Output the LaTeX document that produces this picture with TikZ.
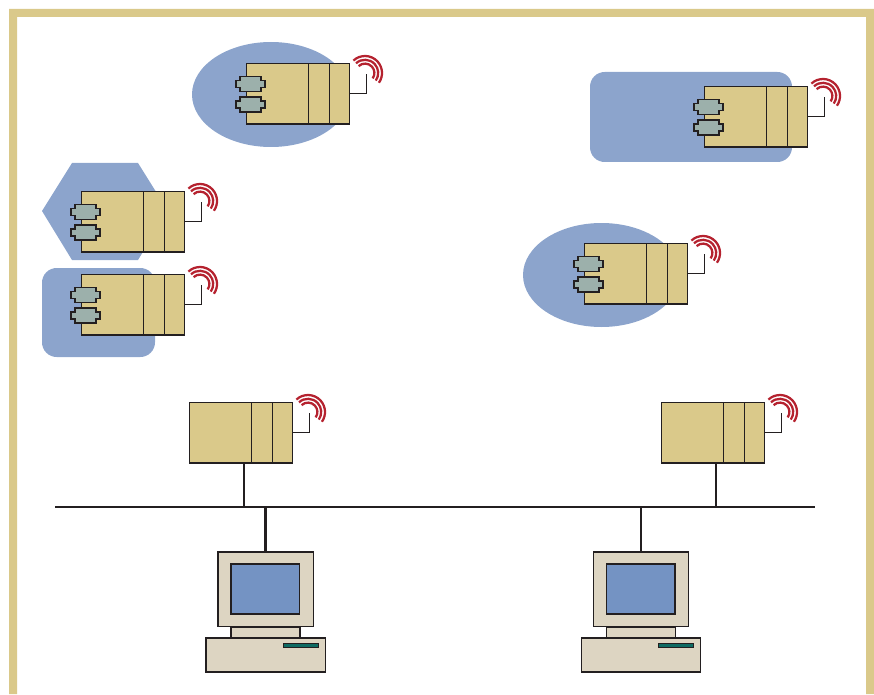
\documentclass[tikz,border=0pt]{standalone}
\usepackage[rgb]{xcolor}
\usepackage{tikz}

\definecolor{cellblue}{HTML}{8CA4CC}
\definecolor{devicetan}{HTML}{DAC98A}
\definecolor{plugGrey}{HTML}{9CB0AB}
\definecolor{waveRed}{HTML}{B5222F}
\definecolor{lineDark}{HTML}{231F20}
\definecolor{pcBeige}{HTML}{DDD5C2}
\definecolor{screenBlue}{HTML}{7493C3}
\definecolor{slotTeal}{HTML}{0E6B63}

\tikzset{
  box/.style={draw=lineDark, line width=0.95pt, outer sep=0pt, inner sep=0pt, anchor=north west},
  wave/.style={draw=waveRed, line width=1.7pt},
  busline/.style={draw=lineDark, line width=2.2pt},
  stemline/.style={draw=lineDark, line width=1.9pt},
  plug/.style={fill=plugGrey, draw=lineDark, line width=0.95pt},
  station/.pic={
    \node[box, fill=devicetan, minimum width=77.6pt, minimum height=45.4pt] (-box) at (0.3,-0.5) {};
    \draw[lineDark, line width=0.95pt] (62.3,-0.5) -- (62.3,-61) (83.3,-0.5) -- (83.3,-61);
    \draw[lineDark, line width=0.85pt] (-box.east) -- ++(17,0) -- ++(0,20);
    \draw[wave] (119,-10) ++(133:17) arc (133:-35:17);
    \draw[wave] (119,-10) ++(133:13.2) arc (133:-35:13.2);
    \draw[wave] (119,-10) ++(133:9.4) arc (133:-35:9.4);
    \coordinate (-tap) at (54.8,-61);
  },
  plugpair/.pic={
    \draw[plug] (-6,-13.5) -- (15,-13.5) -- (15,-17.5) -- (19,-17.5) -- (19,-24.5) -- (15,-24.5) -- (15,-28.5) -- (-6,-28.5) -- (-6,-24.5) -- (-10,-24.5) -- (-10,-17.5) -- (-6,-17.5) -- cycle;
    \draw[plug] (-6,-34) -- (15,-34) -- (15,-38) -- (19,-38) -- (19,-45) -- (15,-45) -- (15,-49) -- (-6,-49) -- (-6,-45) -- (-10,-45) -- (-10,-38) -- (-6,-38) -- cycle;
  },
  pc/.pic={
    \filldraw[fill=pcBeige, draw=lineDark, line width=0.95pt] (13,-75) rectangle (82,-86);
    \node[box, fill=pcBeige, minimum width=71.6pt, minimum height=56pt] (-monitor) at (0,0) {};
    \node[box, fill=screenBlue, minimum width=51.5pt, minimum height=37.5pt] (-screen) at (13,-12) {};
    \node[box, fill=pcBeige, minimum width=89.6pt, minimum height=25.5pt] (-base) at (-12,-86) {};
    \filldraw[fill=slotTeal, draw=lineDark, line width=0.6pt] (65,-91) rectangle (100,-95);
  }
}

\begin{document}
\begin{tikzpicture}[x=0.75pt, y=0.75pt]
\useasboundingbox (0,0) rectangle (874,694);

% Outer frame, open at the bottom
\fill[devicetan] (9,0) -- (9,685) -- (874,685) -- (874,0) -- (866,0) -- (866,677) -- (17,677) -- (17,0) -- cycle;

% Coverage areas
\fill[cellblue] (271,599.5) ellipse [x radius=79, y radius=52.5];
\fill[cellblue] (601.5,419) ellipse [x radius=78.5, y radius=52];
\fill[cellblue, rounded corners=11pt] (590,622) rectangle (792,532);
\fill[cellblue, rounded corners=11pt] (42,426) rectangle (155,337);
\fill[cellblue] (42,483) -- (72,531) -- (138,531) -- (168,483) -- (138,434) -- (72,434) -- cycle;

% Mobile stations
\pic (stationA) at (246,631) {station};
\pic at (246,631) {plugpair};

\pic (stationB) at (704,608) {station};
\pic at (704,608) {plugpair};

\pic (stationC) at (81,503) {station};
\pic at (81,503) {plugpair};

\pic (stationD) at (81,420) {station};
\pic at (81,420) {plugpair};

\pic (stationE) at (584,451) {station};
\pic at (584,451) {plugpair};

% Access points
\pic (stationF) at (189,292) {station};
\pic (stationG) at (661,292) {station};

% Wired bus
\coordinate (busW) at (55,187);
\coordinate (busE) at (815,187);
\draw[busline] (busW) -- (busE);

\draw[stemline] (stationF-tap) -- (stationF-tap |- busW);
\draw[stemline] (stationG-tap) -- (stationG-tap |- busW);

% Computers
\pic (pcA) at (218,142) {pc};
\pic (pcB) at (593.3,142) {pc};

\draw[stemline] (pcA-monitor.north |- busW) -- (pcA-monitor.north);
\draw[stemline] (pcB-monitor.north |- busW) -- (pcB-monitor.north);

\end{tikzpicture}
\end{document}
